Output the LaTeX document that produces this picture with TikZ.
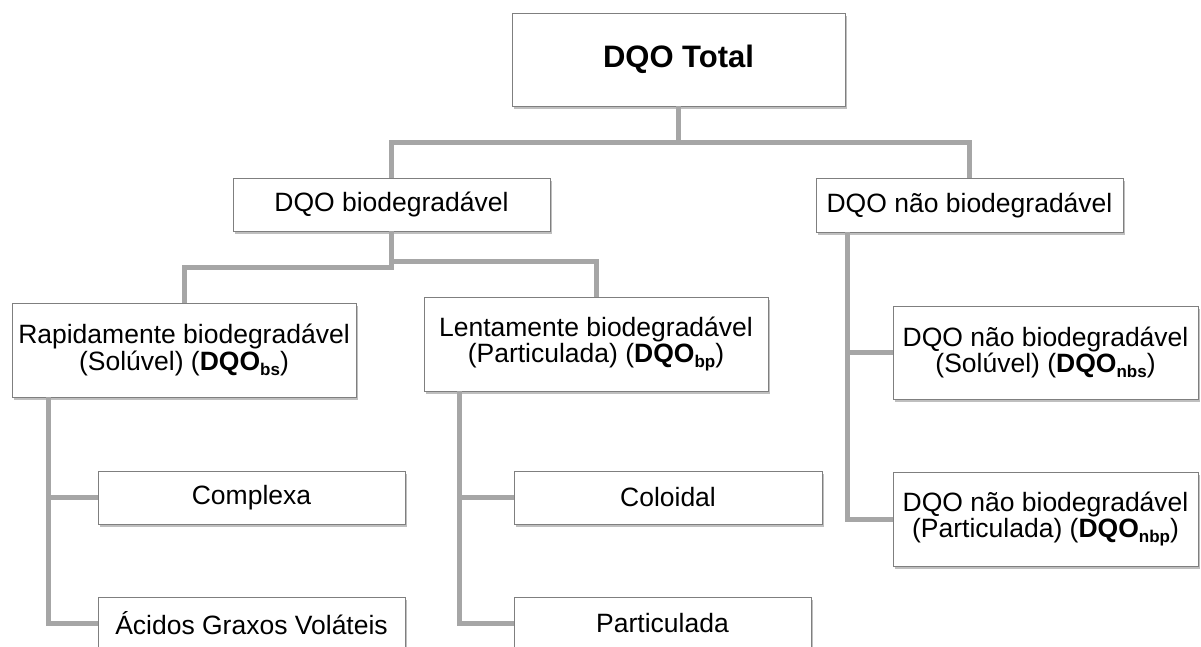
\documentclass[tikz,border=0pt]{standalone}
\usepackage{fontspec}
\setmainfont{Liberation Sans}
\usetikzlibrary{shadows}
\definecolor{conncol}{HTML}{A6A6A6}
\definecolor{boxcol}{HTML}{7F7F7F}
\newcommand{\dqosub}[1]{\raisebox{-5pt}{\fontsize{17}{17}\selectfont\bfseries #1}}
\tikzset{
  box/.style={draw=boxcol, line width=1pt, fill=white, align=center,
    inner sep=0pt, outer sep=0pt,
    font=\fontsize{26.5}{26.5}\selectfont,
    drop shadow={shadow xshift=2pt, shadow yshift=-3pt, opacity=0.25, fill=black}},
  conn/.style={draw=conncol, line width=5pt}
}
\begin{document}
\begin{tikzpicture}[x=1pt,y=-1pt]
\useasboundingbox (0,0) rectangle (1201,646);
\clip (0,0) rectangle (1201,646);
% nodes
\node[box, minimum width=333pt, minimum height=93pt, font=\fontsize{31}{31}\selectfont\bfseries] (total) at (678.5,59.5) {DQO Total};
\node[box, minimum width=317pt, minimum height=53pt] (bio) at (391.5,204.5) {DQO biodegradável};
\node[box, minimum width=307pt, minimum height=54pt] (nbio) at (969.5,205) {DQO não biodegradável};
\node[box, minimum width=344pt, minimum height=94pt] (rap) at (184,350) {Rapidamente biodegradável\\(Solúvel) (\textbf{DQO}\dqosub{bs})};
\node[box, minimum width=344pt, minimum height=94pt] (lent) at (596,344) {Lentamente biodegradável\\(Particulada) (\textbf{DQO}\dqosub{bp})};
\node[box, minimum width=305pt, minimum height=93pt] (nbs) at (1045.5,352.5) {DQO não biodegradável\\(Solúvel) (\textbf{DQO}\dqosub{nbs})};
\node[box, minimum width=305pt, minimum height=94pt] (nbp) at (1045.5,519) {DQO não biodegradável\\(Particulada) (\textbf{DQO}\dqosub{nbp})};
\node[box, minimum width=307pt, minimum height=53pt] (compl) at (251.5,497.5) {Complexa};
\node[box, minimum width=307pt, minimum height=53pt] (acid) at (251.5,623.5) {Ácidos Graxos Voláteis};
\node[box, minimum width=308pt, minimum height=53pt] (colo) at (668,497.5) {Coloidal};
\node[box, minimum width=297pt, minimum height=53pt] (part) at (662.5,623.5) {Particulada};
% connectors
\draw[conn] (total.south) -- ++(0,36) -| (bio.north);
\draw[conn] (total.south) -- ++(0,36) -| (nbio.north);
\draw[conn] (bio.south) -- ++(0,36) -| (rap.north);
\draw[conn] (bio.south) -- ++(0,30) -| (lent.north);
\draw[conn] ([xshift=-122.5pt]nbio.south) |- (nbs.west);
\draw[conn] ([xshift=-122.5pt]nbio.south) |- (nbp.west);
\draw[conn] ([xshift=-136pt]rap.south) |- (compl.west);
\draw[conn] ([xshift=-136pt]rap.south) |- (acid.west);
\draw[conn] ([xshift=-137pt]lent.south) |- (colo.west);
\draw[conn] ([xshift=-137pt]lent.south) |- (part.west);
\end{tikzpicture}
\end{document}
